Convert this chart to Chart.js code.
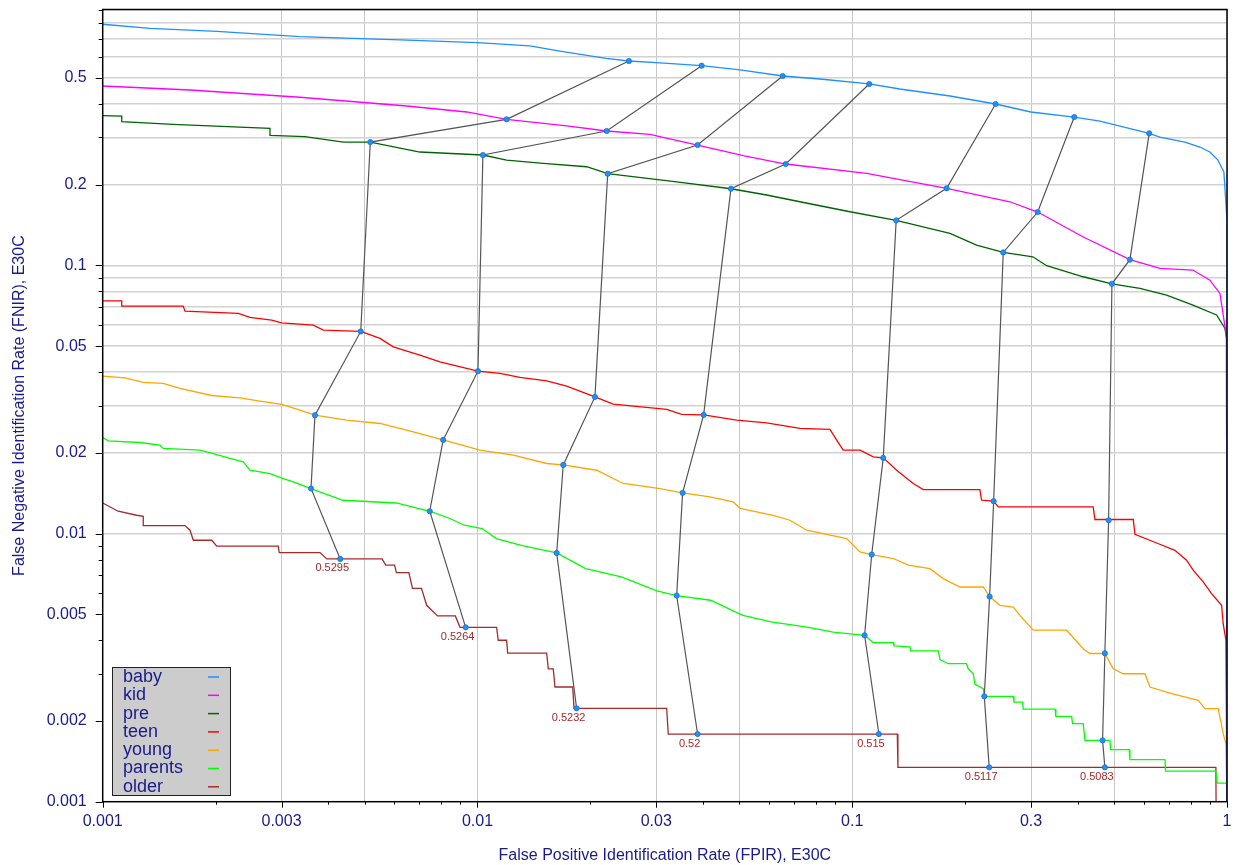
<!DOCTYPE html>
<html>
<head>
<meta charset="utf-8">
<script src="https://cdn.jsdelivr.net/npm/chart.js@4.4.1/dist/chart.umd.min.js"></script>
<style>
  html, body { margin: 0; padding: 0; background: #fff; }
  #wrap { width: 1239px; height: 865px; }
</style>
</head>
<body>
<div id="wrap"><canvas id="det" width="1239" height="865" style="width:1239px;height:865px"></canvas></div>
<script>
// groups and their colours
var groups = ['baby', 'kid', 'pre', 'teen', 'young', 'parents', 'older'];
var groupColors = ['#1e90ff', '#ff00ff', '#006400', '#ff0000', '#ffa500', '#00ff00', '#a52a2a'];

// DET curves, FPIR (x) and FNIR (y)
var babyFpir = [0.001, 0.001337, 0.002018, 0.00336, 0.00621, 0.01, 0.0138, 0.0166, 0.02203, 0.02536, 0.0307, 0.03964, 0.0502, 0.06522, 0.082, 0.111, 0.134, 0.1823, 0.2413, 0.2997, 0.3912, 0.458, 0.6201, 0.6623, 0.772, 0.8466, 0.9002, 0.9456, 0.981, 1, 1];
var babyFnir = [0.793, 0.765, 0.7455, 0.7129, 0.693, 0.677, 0.658, 0.630, 0.592, 0.5784, 0.5688, 0.5557, 0.5355, 0.5085, 0.4955, 0.4748, 0.4548, 0.4282, 0.3998, 0.3733, 0.3575, 0.3454, 0.3108, 0.3011, 0.2884, 0.2763, 0.2647, 0.247, 0.2229, 0.1476, 0.001];

var kidFpir = [0.001, 0.00171, 0.00336, 0.00648, 0.00936, 0.01196, 0.0173, 0.02212, 0.02885, 0.03867, 0.0512, 0.06644, 0.1093, 0.1786, 0.2635, 0.3125, 0.4125, 0.5507, 0.6623, 0.811, 0.9, 0.9574, 0.997, 1];
var kidFnir = [0.4667, 0.4509, 0.4236, 0.393, 0.3733, 0.3505, 0.3311, 0.3171, 0.3082, 0.2811, 0.2565, 0.2388, 0.2204, 0.1938, 0.1727, 0.1581, 0.1279, 0.105, 0.0975, 0.0961, 0.0881, 0.0786, 0.0542, 0.001];

var preFpir = [0.001, 0.001124, 0.001124, 0.00154, 0.002795, 0.002795, 0.003466, 0.004384, 0.005176, 0.00702, 0.01034, 0.01196, 0.01498, 0.01956, 0.02226, 0.034, 0.04747, 0.0591, 0.0725, 0.0986, 0.131, 0.1823, 0.2147, 0.2529, 0.3034, 0.3302, 0.4134, 0.4931, 0.5856, 0.69, 0.811, 0.938, 0.987, 0.997, 1];
var preFnir = [0.3616, 0.3605, 0.3434, 0.3358, 0.3245, 0.3055, 0.302, 0.2884, 0.2884, 0.2647, 0.258, 0.247, 0.2402, 0.2333, 0.2197, 0.205, 0.1931, 0.183, 0.1727, 0.1585, 0.1472, 0.1317, 0.119, 0.1118, 0.1077, 0.0997, 0.0907, 0.08539, 0.0821, 0.0775, 0.0711, 0.0653, 0.0583, 0.0534, 0.001];

var teenFpir = [0.001, 0.001124, 0.001124, 0.00164, 0.001658, 0.0023, 0.002472, 0.002824, 0.003003, 0.003647, 0.003879, 0.004881, 0.005495, 0.005961, 0.00702, 0.007941, 0.01003, 0.01148, 0.01298, 0.0153, 0.0173, 0.02058, 0.02303, 0.03198, 0.03506, 0.04013, 0.04915, 0.0591, 0.0725, 0.0872, 0.0909, 0.0946, 0.1049, 0.1138, 0.121, 0.1314, 0.1455, 0.1547, 0.2191, 0.2214, 0.2384, 0.2452, 0.4395, 0.4442, 0.5621, 0.5681, 0.6491, 0.7261, 0.78, 0.8124, 0.864, 0.9097, 0.9674, 0.9768, 0.9933, 1];
var teenFnir = [0.07378, 0.07378, 0.07049, 0.07049, 0.06753, 0.06621, 0.06397, 0.06251, 0.06107, 0.05988, 0.05737, 0.05671, 0.0534, 0.04968, 0.04626, 0.04369, 0.04032, 0.03954, 0.03821, 0.03711, 0.03545, 0.03233, 0.0304, 0.02902, 0.0278, 0.0277, 0.02647, 0.02586, 0.02465, 0.02444, 0.02229, 0.02046, 0.02046, 0.01931, 0.01915, 0.01722, 0.01537, 0.01459, 0.01459, 0.01331, 0.0132, 0.01257, 0.01257, 0.01128, 0.01128, 0.00994, 0.00922, 0.00866, 0.00795, 0.0073, 0.0066, 0.00597, 0.0054, 0.00461, 0.004, 0.001];

var youngFpir = [0.001, 0.001147, 0.001283, 0.001451, 0.001608, 0.001954, 0.002324, 0.002602, 0.003003, 0.00336, 0.003685, 0.004477, 0.005495, 0.006741, 0.0081, 0.01016, 0.01246, 0.0153, 0.01694, 0.0208, 0.02449, 0.0307, 0.03527, 0.04171, 0.04814, 0.0502, 0.06153, 0.06821, 0.07555, 0.09663, 0.1049, 0.1127, 0.1287, 0.1411, 0.1612, 0.1749, 0.1938, 0.2237, 0.2326, 0.2478, 0.269, 0.2802, 0.304, 0.3733, 0.4134, 0.4307, 0.4722, 0.4971, 0.5286, 0.604, 0.6228, 0.7115, 0.838, 0.8732, 0.9473, 0.9768, 0.9933, 1];
var youngFnir = [0.03863, 0.03807, 0.03659, 0.03628, 0.03475, 0.03272, 0.03206, 0.03125, 0.03029, 0.02884, 0.02763, 0.02647, 0.02573, 0.02393, 0.02235, 0.02046, 0.0196, 0.01825, 0.01803, 0.01722, 0.01537, 0.01472, 0.01418, 0.0137, 0.01312, 0.0124, 0.0117, 0.01121, 0.01029, 0.00958, 0.00854, 0.00835, 0.00807, 0.00762, 0.0074, 0.00679, 0.00632, 0.00632, 0.00582, 0.0054, 0.00532, 0.00495, 0.00436, 0.00436, 0.00372, 0.00357, 0.00357, 0.00313, 0.003, 0.003, 0.002677, 0.00253, 0.002388, 0.002223, 0.002223, 0.001794, 0.001646, 0.001];

var parentsFpir = [0.001, 0.001035, 0.001257, 0.001422, 0.001451, 0.001818, 0.001973, 0.002186, 0.002372, 0.002472, 0.002795, 0.003033, 0.003225, 0.003596, 0.004374, 0.006076, 0.006934, 0.007458, 0.008446, 0.009222, 0.01029, 0.01123, 0.01309, 0.01627, 0.01944, 0.0242, 0.03013, 0.034, 0.0419, 0.04677, 0.05105, 0.06083, 0.07574, 0.08899, 0.1079, 0.1138, 0.1287, 0.1292, 0.1426, 0.1432, 0.1697, 0.1714, 0.1804, 0.2019, 0.2039, 0.2103, 0.2126, 0.2237, 0.2251, 0.269, 0.2701, 0.2849, 0.2859, 0.3479, 0.3494, 0.3849, 0.3872, 0.4134, 0.4178, 0.4871, 0.4892, 0.5484, 0.5507, 0.6829, 0.6857, 0.934, 0.9421, 0.997, 1];
var parentsFnir = [0.02281, 0.02215, 0.02185, 0.02135, 0.02076, 0.02046, 0.01988, 0.01905, 0.0185, 0.01722, 0.01674, 0.01604, 0.01558, 0.01472, 0.01331, 0.013, 0.0124, 0.01211, 0.01138, 0.01074, 0.01044, 0.00958, 0.00904, 0.008464, 0.0074, 0.00689, 0.00611, 0.005871, 0.00564, 0.00525, 0.00495, 0.00468, 0.00448, 0.00429, 0.004174, 0.00392, 0.00392, 0.00381, 0.00378, 0.00365, 0.00365, 0.00339, 0.00327, 0.00327, 0.00313, 0.003, 0.00274, 0.00264, 0.002471, 0.002471, 0.00235, 0.00235, 0.002215, 0.002215, 0.00208, 0.00208, 0.001954, 0.001954, 0.001693, 0.001693, 0.001563, 0.001563, 0.001434, 0.001434, 0.0013, 0.0013, 0.001173, 0.001173, 0.001];

var olderFpir = [0.001, 0.0011, 0.001232, 0.001283, 0.001283, 0.001658, 0.00171, 0.001745, 0.001954, 0.002015, 0.00294, 0.002958, 0.0038, 0.003962, 0.005566, 0.005691, 0.006009, 0.006076, 0.006561, 0.006708, 0.00709, 0.00732, 0.00782, 0.00873, 0.00898, 0.01125, 0.01136, 0.01196, 0.01204, 0.0153, 0.01545, 0.01593, 0.0161, 0.01795, 0.0181, 0.03198, 0.03229, 0.1319, 0.1324, 0.934, 0.935];
var olderFnir = [0.013, 0.01211, 0.0117, 0.0116, 0.01071, 0.01071, 0.01029, 0.00944, 0.00944, 0.00897, 0.00897, 0.00849, 0.00849, 0.00804, 0.00804, 0.00762, 0.00762, 0.00715, 0.00715, 0.00625, 0.00625, 0.0054, 0.00493, 0.00493, 0.00447, 0.00447, 0.004, 0.004, 0.00358, 0.00358, 0.00313, 0.00313, 0.002677, 0.002677, 0.00223, 0.00223, 0.001788, 0.001788, 0.001343, 0.001343, 0.001];

var curveFpir = [babyFpir, kidFpir, preFpir, teenFpir, youngFpir, parentsFpir, olderFpir];
var curveFnir = [babyFnir, kidFnir, preFnir, teenFnir, youngFnir, parentsFnir, olderFnir];

// operating points at fixed thresholds, one entry per group (baby .. older)
var thresholds = ['0.5295', '0.5264', '0.5232', '0.52', '0.515', '0.5117', '0.5083'];
var thrFpir = [
  [0.02536, 0.01196, 0.005176, 0.004881, 0.003685, 0.003596, 0.004303],
  [0.03964, 0.02212, 0.01034, 0.01003, 0.0081, 0.007458, 0.0093],
  [0.06522, 0.03867, 0.02226, 0.02058, 0.01694, 0.01627, 0.01839],
  [0.111, 0.06644, 0.04747, 0.04013, 0.03527, 0.034, 0.03867],
  [0.2413, 0.1786, 0.131, 0.121, 0.1127, 0.1079, 0.1178],
  [0.3912, 0.3125, 0.2529, 0.2384, 0.2326, 0.2251, 0.232],
  [0.6201, 0.5507, 0.4931, 0.4832, 0.4722, 0.4656, 0.4722]
];
var thrFnir = [
  [0.5784, 0.3505, 0.2884, 0.05671, 0.02763, 0.01472, 0.00804],
  [0.5557, 0.3171, 0.258, 0.04032, 0.02235, 0.01211, 0.00447],
  [0.5085, 0.2811, 0.2197, 0.03233, 0.01803, 0.008464, 0.00223],
  [0.4748, 0.2388, 0.1931, 0.0277, 0.01418, 0.005871, 0.001788],
  [0.3998, 0.1938, 0.1472, 0.01915, 0.00835, 0.004174, 0.001788],
  [0.3575, 0.1581, 0.1118, 0.0132, 0.005819, 0.002471, 0.001343],
  [0.3108, 0.105, 0.08539, 0.01121, 0.003576, 0.001693, 0.001343]
];

// ticks
var xTicks = [0.001, 0.002, 0.003, 0.004, 0.005, 0.006, 0.007, 0.008, 0.009,
              0.01, 0.02, 0.03, 0.04, 0.05, 0.06, 0.07, 0.08, 0.09,
              0.1, 0.2, 0.3, 0.4, 0.5, 0.6, 0.7, 0.8, 0.9, 1];
var xTickLabels = ['0.001', '0.003', '0.01', '0.03', '0.1', '0.3', '1'];
var xGridAt = [0.001, 0.003, 0.005, 0.01, 0.03, 0.05, 0.1, 0.3, 0.5, 1];
var yTicks = [0.001, 0.002, 0.003, 0.004, 0.005, 0.006, 0.007, 0.008, 0.009,
              0.01, 0.02, 0.03, 0.04, 0.05, 0.06, 0.07, 0.08, 0.09,
              0.1, 0.2, 0.3, 0.4, 0.5, 0.6, 0.7, 0.8, 0.9];
var yTickLabels = ['0.001', '0.002', '0.005', '0.01', '0.02', '0.05', '0.1', '0.2', '0.5'];

var navy = '#1a1a8c';
var fontFam = "'Liberation Sans', Arial, Helvetica, sans-serif";

function near(a, b) { return Math.abs(a - b) < b * 1e-6; }
function labelOf(v, list) {
  for (var i = 0; i < list.length; i++) if (near(v, Number(list[i]))) return list[i];
  return '';
}
function inList(v, list) {
  for (var i = 0; i < list.length; i++) if (near(v, list[i])) return true;
  return false;
}
function pts(xs, ys) { return xs.map(function (x, i) { return {x: x, y: ys[i]}; }); }

var datasets = [];
thresholds.forEach(function (t, i) {
  datasets.push({
    label: 'thr ' + t,
    data: pts(thrFpir[i], thrFnir[i]),
    borderColor: '#555555',
    borderWidth: 1.2,
    pointRadius: 2.6,
    pointBackgroundColor: '#1e90ff',
    pointBorderColor: '#1b6fcc',
    pointBorderWidth: 0.8,
    order: 0
  });
});
groups.forEach(function (g, i) {
  datasets.push({
    label: g,
    data: pts(curveFpir[i], curveFnir[i]),
    borderColor: groupColors[i],
    borderWidth: 1.3,
    pointRadius: 0,
    order: 1
  });
});

// tick marks, frame, threshold labels, legend box
var decor = {
  id: 'decor',
  afterDatasetsDraw: function (chart) {
    var ctx = chart.ctx, a = chart.chartArea, x = chart.scales.x, y = chart.scales.y;
    ctx.save();
    ctx.strokeStyle = '#000';
    ctx.lineWidth = 1;
    x.ticks.forEach(function (t) {
      var px = Math.round(x.getPixelForValue(t.value)) + 0.5;
      var len = labelOf(t.value, xTickLabels) ? 6 : 3;
      ctx.beginPath(); ctx.moveTo(px, a.bottom); ctx.lineTo(px, a.bottom + len); ctx.stroke();
    });
    y.ticks.forEach(function (t) {
      var py = Math.round(y.getPixelForValue(t.value)) + 0.5;
      var len = labelOf(t.value, yTickLabels) ? 7 : 4;
      ctx.beginPath(); ctx.moveTo(a.left - len, py); ctx.lineTo(a.left, py); ctx.stroke();
    });
    ctx.lineWidth = 1.5;
    ctx.strokeRect(a.left, a.top, a.right - a.left, a.bottom - a.top);

    // threshold values under the 'older' points
    ctx.font = '11px ' + fontFam;
    ctx.fillStyle = '#a52a2a';
    ctx.textAlign = 'center';
    ctx.textBaseline = 'top';
    thresholds.forEach(function (t, i) {
      var px = x.getPixelForValue(thrFpir[i][6]);
      var py = y.getPixelForValue(thrFnir[i][6]);
      ctx.fillText(t, px - 8, py + 4);
    });

    // legend
    var lx = 112, ly = 667, lw = 118, lh = 128;
    ctx.fillStyle = '#cccccc';
    ctx.fillRect(lx, ly, lw, lh);
    ctx.strokeStyle = '#222';
    ctx.lineWidth = 1;
    ctx.strokeRect(lx + 0.5, ly + 0.5, lw, lh);
    ctx.font = '18px ' + fontFam;
    ctx.textAlign = 'left';
    ctx.textBaseline = 'middle';
    groups.forEach(function (g, i) {
      var cy = ly + 10 + i * 18.3;
      ctx.fillStyle = navy;
      ctx.fillText(g, lx + 11, cy);
      ctx.strokeStyle = groupColors[i];
      ctx.lineWidth = 1.5;
      ctx.beginPath(); ctx.moveTo(lx + 96, cy); ctx.lineTo(lx + 107, cy); ctx.stroke();
    });
    ctx.restore();
  }
};

new Chart(document.getElementById('det').getContext('2d'), {
  type: 'line',
  data: { datasets: datasets },
  options: {
    responsive: false,
    animation: false,
    layout: { padding: { left: 0, right: 12, top: 9.5, bottom: 0 } },
    elements: { line: { tension: 0, fill: false } },
    plugins: { legend: { display: false }, tooltip: { enabled: false } },
    scales: {
      x: {
        type: 'logarithmic',
        min: 0.001,
        max: 1,
        afterBuildTicks: function (s) { s.ticks = xTicks.map(function (v) { return {value: v}; }); },
        afterFit: function (s) { s.height = 63.3; s.paddingLeft = 0; s.paddingRight = 0; },
        grid: {
          drawTicks: false,
          lineWidth: 1,
          color: function (c) { return c.tick && inList(c.tick.value, xGridAt) ? '#c8c8c8' : 'rgba(0,0,0,0)'; }
        },
        border: { display: false },
        ticks: {
          autoSkip: false,
          maxRotation: 0,
          padding: 10,
          color: navy,
          font: { family: fontFam, size: 16 },
          callback: function (v) { return labelOf(v, xTickLabels); }
        },
        title: {
          display: true,
          text: 'False Positive Identification Rate (FPIR), E30C',
          color: navy,
          font: { family: fontFam, size: 16 },
          padding: { top: 0, bottom: 0 }
        }
      },
      y: {
        type: 'logarithmic',
        min: 0.001,
        max: 0.9,
        afterBuildTicks: function (s) { s.ticks = yTicks.map(function (v) { return {value: v}; }); },
        afterFit: function (s) { s.width = 102.7; s.paddingTop = 0; s.paddingBottom = 0; },
        grid: {
          drawTicks: false,
          lineWidth: 1.5,
          color: function (c) { return c.tick && c.tick.value > 0.0099 ? '#d2d2d2' : 'rgba(0,0,0,0)'; }
        },
        border: { display: false },
        ticks: {
          autoSkip: false,
          padding: 16,
          color: navy,
          font: { family: fontFam, size: 16 },
          callback: function (v) { return labelOf(v, yTickLabels); }
        },
        title: {
          display: true,
          text: 'False Negative Identification Rate (FNIR), E30C',
          color: navy,
          font: { family: fontFam, size: 16 },
          padding: { top: 10, bottom: 0 }
        }
      }
    }
  },
  plugins: [decor]
});
</script>
</body>
</html>
